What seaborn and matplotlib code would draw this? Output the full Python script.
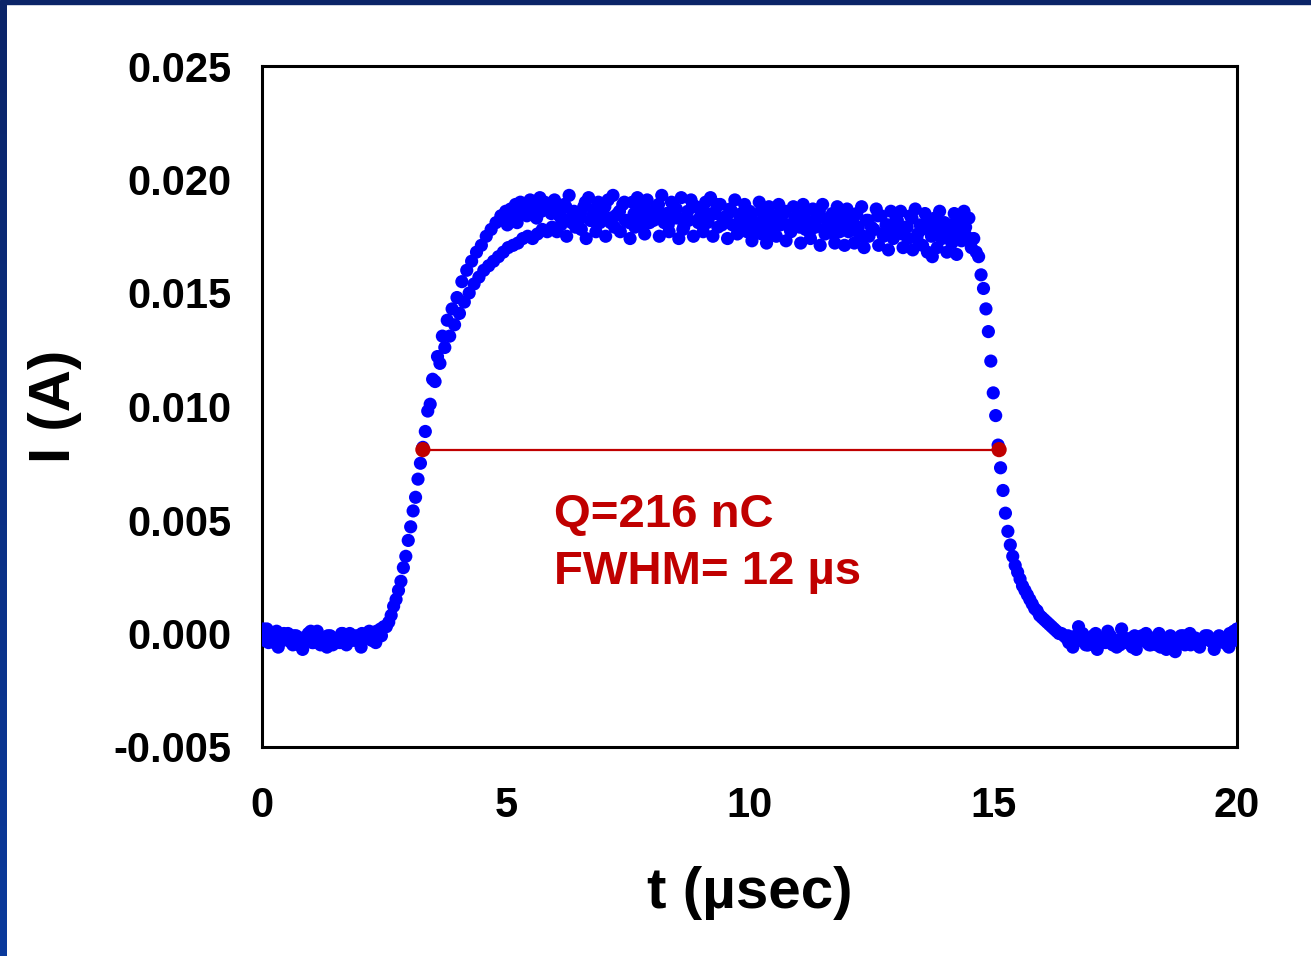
import numpy as np
import pandas as pd
import matplotlib
matplotlib.use("Agg")
import matplotlib.pyplot as plt
import seaborn as sns
from matplotlib.patches import Rectangle
from matplotlib.colors import LinearSegmentedColormap

# ---------------- data (current in units of 1e-4 A) ----------------
# Trace A sampled at t = 0.0, 0.1, ... 20.0 us
baseline_A = [0, 2, -1, 1, -3, -2, -4, -1, -2, -3, 1, -2, -5, -3, -1, -3, -4, -2, 0, -3, -1, -2, 1, -2, 0]
rise_A = [3, 5, 12, 19, 29, 41, 54, 68, 82, 98, 112, 122, 131, 138, 143, 148, 155, 160, 164, 168,
          171, 175, 178, 181, 184, 186, 187, 189, 190, 188, 191, 189, 192, 190, 188]
plateau_A = [191, 184, 189, 193, 186, 182, 188, 192, 185, 190,
             183, 191, 193, 185, 189, 182, 190, 192, 186, 191,
             184, 188, 193, 185, 190, 187, 192, 183, 191, 188,
             184, 190, 192, 185, 189, 182, 187, 191, 184, 189,
             186, 181, 190, 184, 188, 182, 189, 185, 180, 188,
             184, 189, 181, 187, 183, 189, 180, 185, 188, 182,
             187, 180, 185, 188, 182, 179, 187, 184, 180, 186,
             182, 186, 179, 184, 187, 180, 185, 179, 183, 186,
             181, 178, 185, 182, 186, 183]
fall_A = [174, 166, 152, 133, 106, 83, 63, 45, 34, 27, 21, 17, 13, 10, 7, 5, 3, 1, 0]
tail_A = [-2, -4, -1, -3, -5, -2, 0, -3, -4, -1, -3, -5, -2, -4, -1, -3, -2, -5, -3, 0,
          -4, -2, -6, -3, -1, -4, -2, -5, -3, -1, -4, -2, -3, -5, -1, 2]

# Trace B sampled at t = 0.05, 0.15, ... 19.95 us
baseline_B = [-3, -1, -4, -2, 0, -3, -1, -5, -3, 0, -4, -2, -3, -1, -5, -2, 0, -4, -2, -3, 0, -1, -3, 1, -1]
rise_B = [3, 8, 15, 23, 34, 47, 60, 75, 89, 101, 111, 119, 126, 131, 136, 141, 146, 150, 154, 157,
          160, 162, 164, 166, 168, 170, 171, 172, 174, 175, 174, 176, 178, 177, 179]
plateau_B = [177, 183, 175, 181, 184, 178, 174, 182, 177, 183,
             175, 181, 184, 177, 182, 174, 179, 183, 176, 181,
             184, 175, 181, 177, 183, 174, 179, 182, 175, 181,
             177, 182, 175, 179, 183, 174, 180, 176, 181, 177,
             173, 180, 176, 172, 179, 175, 181, 173, 177, 180,
             172, 178, 174, 179, 171, 176, 179, 172, 177, 171,
             178, 172, 176, 170, 175, 178, 171, 175, 169, 174,
             177, 170, 174, 169, 176, 171, 168, 166, 170, 174,
             168, 172, 167, 173, 175, 170]
fall_B = [168, 158, 143, 120, 96, 73, 53, 39, 30, 24, 19, 15, 11, 8, 6, 4, 2, 0, -1]
tail_B = [-4, -2, 3, -3, -5, -1, -4, -2, 1, -5, -3, -2, -4, -6, -3, -1, -4, -2, -5, -3,
          -7, -2, -4, -1, -3, -5, -2, -4, -1, -3, -5, -2, -4, 0, -3]

# Trace C (flat parts only) sampled at t = start + 0.1 k
baseline_C = [2, -4, -1, -6, -3, 0, -5, -2, -7, -1, -4, 1, -3, -6, -2, -4, 0, -5, -3, -1, -6, -2, 0, -4, 2]
plateau_C = [180, 183, 181, 185, 184, 187, 183, 186, 188, 185,
             186, 180, 188, 183, 179, 185, 190, 182, 187, 181,
             188, 183, 179, 186, 190, 181, 185, 188, 180, 186,
             182, 189, 184, 180, 187, 183, 178, 186, 189, 182,
             187, 181, 185, 189, 180, 184, 186, 179, 185, 182,
             184, 178, 186, 181, 176, 184, 180, 186, 178, 183,
             179, 185, 177, 182, 186, 178, 183, 176, 181, 184,
             177, 183, 179, 175, 182, 178, 184, 176, 180, 177,
             182, 176, 179, 183, 174, 178, 181, 175, 180, 177,
             175, 180, 177, 181, 179]
tail_C = [-1, -6, -3, 0, -5, -2, -7, -4, -1, -3, -6, 2, -4, -2, -7, -3, 0, -5, -2, -6,
          -4, -1, -8, -3, -5, 0, -4, -6, -2, -3, -7, -1, -4, -6, 1]

t_step_us = 0.1
t0_A, t0_B = 0.0, 0.05
t0_C_baseline, t0_C_plateau, t0_C_tail = 0.033, 5.033, 16.533

fwhm_t = [3.30, 15.12]
fwhm_I = [0.0081, 0.0081]

x_ticks = [0, 5, 10, 15, 20]
y_ticks = [-0.005, 0.000, 0.005, 0.010, 0.015, 0.020, 0.025]

# ---------------- build frame ----------------
def seg(vals, t0):
    v = np.array(vals) * 1e-4
    return t0 + t_step_us * np.arange(len(v)), v

parts = [seg(baseline_A + rise_A + plateau_A + fall_A + tail_A, t0_A),
         seg(baseline_B + rise_B + plateau_B + fall_B + tail_B, t0_B),
         seg(baseline_C, t0_C_baseline),
         seg(plateau_C, t0_C_plateau),
         seg(tail_C, t0_C_tail)]
df = pd.DataFrame({"t": np.concatenate([p[0] for p in parts]),
                   "I": np.concatenate([p[1] for p in parts])})

sns.set_style("white")
plt.rcParams["font.family"] = ["Liberation Sans", "DejaVu Sans"]
plt.rcParams["axes.unicode_minus"] = False
plt.rcParams["text.color"] = "black"
plt.rcParams["axes.labelcolor"] = "black"

W, H = 1311, 956
fig = plt.figure(figsize=(W / 100, H / 100), dpi=100)
fig.patch.set_facecolor("white")

# blue slide frame (top and left)
fig.patches.append(Rectangle((0, 1 - 4 / H), 1, 4 / H, transform=fig.transFigure,
                             color="#0b2468", zorder=0))
gax = fig.add_axes([0, 0, 7 / W, 1 - 4 / H])
grad = np.linspace(0, 1, 256).reshape(-1, 1)
cmap = LinearSegmentedColormap.from_list("slide", ["#0b2468", "#0a3a9c"])
gax.imshow(grad, aspect="auto", cmap=cmap, origin="upper")
gax.set_axis_off()

ax = fig.add_axes([262 / W, 1 - 747 / H, (1237 - 262) / W, (747 - 66) / H])
sns.scatterplot(data=df, x="t", y="I", color="#0000FF", s=90, edgecolor="none",
                linewidth=0, legend=False, ax=ax, zorder=3)
ax.plot(fwhm_t, fwhm_I, color="#C00000", lw=1.6, zorder=4)
ax.scatter(fwhm_t, fwhm_I, color="#C00000", s=120, zorder=5, edgecolors="none")

ax.set_xlim(0, 20)
ax.set_ylim(-0.005, 0.025)
ax.set_xticks(x_ticks)
ax.set_yticks(y_ticks)
ax.set_xticklabels([str(v) for v in x_ticks])
ax.set_yticklabels([f"{v:.3f}" for v in y_ticks])
for s in ax.spines.values():
    s.set_linewidth(2.2)
    s.set_color("black")
ax.tick_params(axis="both", direction="out", length=7, width=1.5, labelsize=30,
               colors="black")
ax.tick_params(axis="y", pad=15)
ax.tick_params(axis="x", pad=21)
for lab in ax.get_xticklabels() + ax.get_yticklabels():
    lab.set_fontweight("bold")

ax.set_xlabel("t (\u00b5sec)", fontsize=42, fontweight="bold", color="black")
ax.set_ylabel("I (A)", fontsize=42, fontweight="bold", color="black")
ax.xaxis.label.set_va("center")
ax.yaxis.label.set_va("center")
ax.yaxis.label.set_ha("center")
ax.xaxis.set_label_coords(0.5, (747 - 893) / 681)
ax.yaxis.set_label_coords((55 - 262) / 975, 0.5)

ax.text(6.0, 0.00524, "Q=216 nC", color="#C00000", fontsize=34, fontweight="bold",
        ha="left", va="center")
ax.text(6.0, 0.00273, "FWHM= 12 \u00b5s", color="#C00000", fontsize=34, fontweight="bold",
        ha="left", va="center")

fig.savefig("out.png", dpi=100, facecolor="white")
